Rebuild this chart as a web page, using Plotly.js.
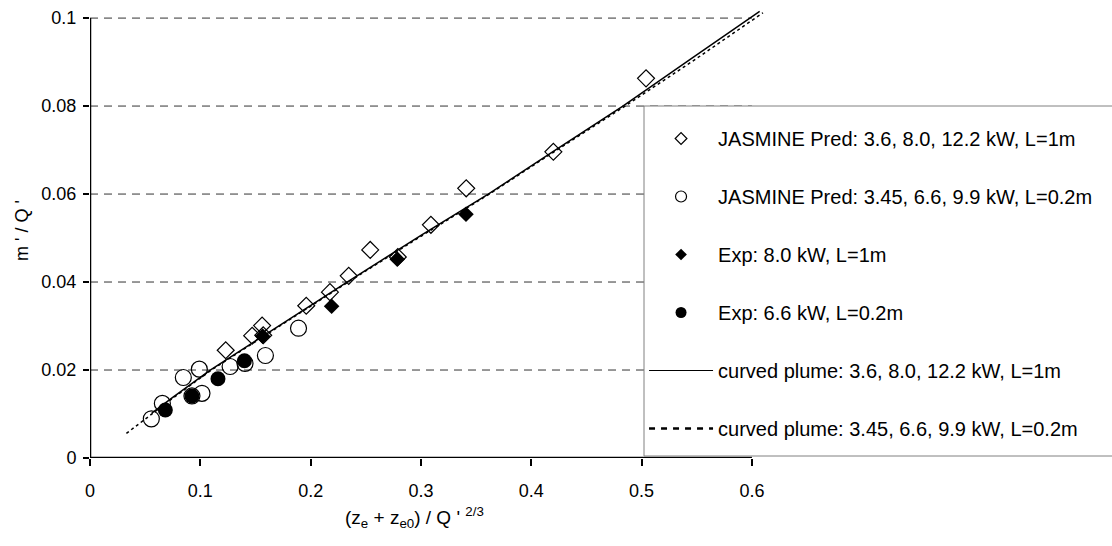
<!DOCTYPE html>
<html>
<head>
<meta charset="utf-8">
<script src="https://cdn.plot.ly/plotly-3.0.1.min.js"></script>
<style>html,body{margin:0;padding:0;background:#fff;}#chart{width:1112px;height:546px;}</style>
</head>
<body>
<div id="chart"></div>
<script>
// JASMINE predictions, L=1m (open diamonds)
var jas1X = [0.123, 0.147, 0.157, 0.156, 0.196, 0.2175, 0.2345, 0.254, 0.279, 0.309, 0.341, 0.42, 0.504];
var jas1Y = [0.0245, 0.0278, 0.0279, 0.0301, 0.0346, 0.0377, 0.0414, 0.0473, 0.0457, 0.053, 0.0613, 0.0696, 0.0863];
// JASMINE predictions, L=0.2m (open circles)
var jas02X = [0.0556, 0.0656, 0.0846, 0.0924, 0.0991, 0.1015, 0.127, 0.1405, 0.159, 0.189];
var jas02Y = [0.0089, 0.0124, 0.0183, 0.0141, 0.0202, 0.0147, 0.0208, 0.0215, 0.0233, 0.0295];
// Experiments
var exp1X = [0.1565, 0.219, 0.2785, 0.3408];
var exp1Y = [0.0277, 0.0345, 0.0452, 0.0554];
var exp02X = [0.0683, 0.0924, 0.116, 0.140];
var exp02Y = [0.0109, 0.0141, 0.018, 0.0221];
// Curved plume model lines
var curve1X = [0.056, 0.075, 0.109, 0.17, 0.233, 0.30, 0.361, 0.42, 0.483, 0.545, 0.607];
var curve1Y = [0.0102, 0.0138, 0.02, 0.0299, 0.04, 0.0506, 0.06, 0.0697, 0.08, 0.0908, 0.1015];
var curve02X = [0.033, 0.045, 0.075, 0.11, 0.17, 0.234, 0.30, 0.362, 0.42, 0.485, 0.548, 0.61];
var curve02Y = [0.0056, 0.0079, 0.0136, 0.02, 0.0297, 0.04, 0.0504, 0.06, 0.0695, 0.08, 0.0905, 0.1012];
// Axes
var xTickVals = [0, 0.1, 0.2, 0.3, 0.4, 0.5, 0.6];
var xTickText = ['0', '0.1', '0.2', '0.3', '0.4', '0.5', '0.6'];
var yTickVals = [0, 0.02, 0.04, 0.06, 0.08, 0.1];
var yTickText = ['0', '0.02', '0.04', '0.06', '0.08', '0.1'];
var names = [
  'JASMINE Pred: 3.6, 8.0, 12.2 kW, L=1m',
  'JASMINE Pred: 3.45, 6.6, 9.9 kW, L=0.2m',
  'Exp: 8.0 kW, L=1m',
  'Exp: 6.6 kW, L=0.2m',
  'curved plume: 3.6, 8.0, 12.2 kW, L=1m',
  'curved plume: 3.45, 6.6, 9.9 kW, L=0.2m'
];

var FONT = 'Liberation Sans, Arial, sans-serif';
var traces = [
  // legend entries (no data drawn)
  {x: [null], y: [null], name: names[0], mode: 'markers', marker: {symbol: 'diamond-open', size: 9, color: '#000', line: {width: 1.2}}, legendgroup: 'g1'},
  {x: [null], y: [null], name: names[1], mode: 'markers', marker: {symbol: 'circle-open', size: 11, color: '#000', line: {width: 1.2}}, legendgroup: 'g2'},
  {x: [null], y: [null], name: names[2], mode: 'markers', marker: {symbol: 'diamond', size: 9, color: '#000'}, legendgroup: 'g3'},
  {x: [null], y: [null], name: names[3], mode: 'markers', marker: {symbol: 'circle', size: 11, color: '#000'}, legendgroup: 'g4'},
  {x: [null], y: [null], name: names[4], mode: 'lines', line: {color: '#000', width: 1.2}, legendgroup: 'g5'},
  {x: [null], y: [null], name: names[5], mode: 'lines', line: {color: '#000', width: 2.5, dash: '6px,6px'}, legendgroup: 'g6'},
  // data
  {x: curve02X, y: curve02Y, mode: 'lines', line: {color: '#000', width: 1.5, dash: '3px,3px'}, showlegend: false},
  {x: curve1X, y: curve1Y, mode: 'lines', line: {color: '#000', width: 1.5}, showlegend: false},
  {x: jas1X, y: jas1Y, mode: 'markers', marker: {symbol: 'diamond-open', size: 13, color: '#000', line: {width: 1.2}}, showlegend: false},
  {x: jas02X, y: jas02Y, mode: 'markers', marker: {symbol: 'circle-open', size: 16, color: '#000', line: {width: 1.2}}, showlegend: false},
  {x: exp1X, y: exp1Y, mode: 'markers', marker: {symbol: 'diamond', size: 12, color: '#000'}, showlegend: false},
  {x: exp02X, y: exp02Y, mode: 'markers', marker: {symbol: 'circle', size: 15, color: '#000'}, showlegend: false}
];

var shapes = [];
yTickVals.forEach(function (v) {
  if (v > 0) shapes.push({type: 'line', xref: 'x', yref: 'y', x0: 0, x1: 0.6, y0: v, y1: v, layer: 'below', line: {color: '#333', width: 1, dash: '8px,6px'}});
});
shapes.push({type: 'line', xref: 'x', yref: 'y', x0: 0, x1: 0.6, y0: 0, y1: 0, line: {color: '#000', width: 2.5}});
shapes.push({type: 'line', xref: 'x', yref: 'y', x0: 0, x1: 0, y0: 0, y1: 0.1, line: {color: '#000', width: 2.5}});
// legend frame (extends past the right edge, as in the reference)
shapes.push({type: 'rect', xref: 'paper', yref: 'paper', x0: (644 - 90) / 684, x1: (1130 - 90) / 684, y0: (458 - 456) / 454, y1: (458 - 106) / 454,
             layer: 'above', fillcolor: '#fff', line: {color: '#808080', width: 1}});

var layout = {
  width: 1112, height: 546,
  margin: {l: 90, r: 338, t: 4, b: 88},
  paper_bgcolor: '#fff', plot_bgcolor: '#fff',
  font: {family: FONT, size: 18, color: '#000'},
  showlegend: true,
  xaxis: {range: [0, 0.62], tickvals: xTickVals, ticktext: xTickText, showgrid: false, zeroline: false, showline: false,
          ticks: 'outside', ticklen: 7, tickwidth: 2, tickcolor: '#000', ticklabelstandoff: 9, tickfont: {size: 18}},
  yaxis: {range: [0, 0.1032], tickvals: yTickVals, ticktext: yTickText, showgrid: false, zeroline: false, showline: false,
          ticks: 'outside', ticklen: 6, tickwidth: 2, tickcolor: '#000', ticklabelstandoff: 3, tickfont: {size: 18}},
  shapes: shapes,
  legend: {x: 0.81, xanchor: 'left', y: (458 - 119) / 454, yanchor: 'top', bgcolor: 'rgba(0,0,0,0)', borderwidth: 0,
           font: {family: FONT, size: 20}, tracegroupgap: 29, itemwidth: 64, traceorder: 'grouped'},
  annotations: [
    {text: '(z<sub>e</sub> + z<sub>e0</sub>) / Q \' <sup>2/3</sup>', xref: 'paper', yref: 'paper', x: (414 - 90) / 684, y: -0.13, xanchor: 'center', yanchor: 'middle', showarrow: false, font: {size: 19}},
    {text: 'm \' / Q \'', xref: 'paper', yref: 'paper', x: (22 - 90) / 684, y: 0.5, xanchor: 'center', yanchor: 'middle', textangle: -90, showarrow: false, font: {size: 18}}
  ]
};

Plotly.newPlot('chart', traces, layout, {displayModeBar: false, staticPlot: true});
</script>
</body>
</html>
